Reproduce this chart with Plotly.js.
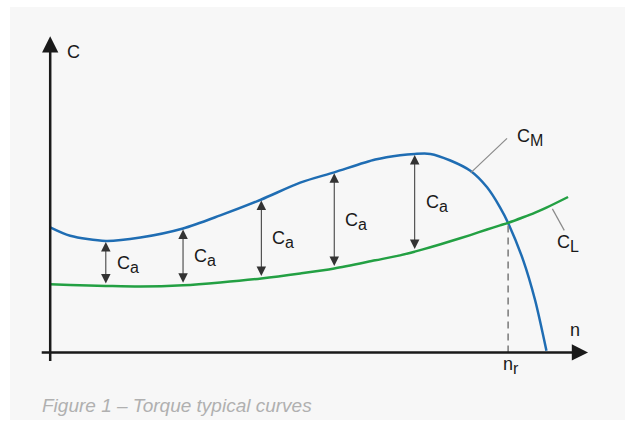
<!DOCTYPE html>
<html>
<head>
<meta charset="utf-8">
<script src="https://cdn.plot.ly/plotly-3.0.1.min.js"></script>
<style>
  html, body { margin: 0; padding: 0; background: #ffffff; }
  #panel { position: absolute; left: 10px; top: 7px; width: 615px; height: 413px; background: #f7f7f7; }
  #chart { position: absolute; left: 0; top: 0; width: 625px; height: 424px; }
</style>
</head>
<body>
<div id="panel"></div>
<div id="chart"></div>
<script>
// Speed n (arbitrary units, 0-100)
const speed        = [0, 3.7, 10.3, 16.7, 24.6, 31.5, 39.1, 46.3, 52.6, 60.2, 64.8, 67.5, 70.4, 74.1, 77.8, 80.9, 83.3, 84.8, 87.6, 89.8, 91.9, 95.9];
// Motor torque C_M
const motorTorque  = [40.1, 37.4, 35.7, 36.8, 39.7, 43.9, 49.0, 54.4, 57.7, 61.8, 63.2, 63.6, 63.6, 61.5, 58.2, 52.9, 46.5, 41.5, 29.5, 16.7, 0.5, null];
// Load torque C_L
const loadTorque   = [21.8, 21.6, 21.3, 21.1, 21.5, 22.4, 23.7, 25.3, 26.9, 29.5, 31.1, 32.3, 33.7, 35.6, 37.6, 39.4, 40.7, 41.5, 43.3, 44.8, 46.4, 49.8];
// Points where the accelerating torque C_a is shown
const caIndex      = [2, 4, 6, 8, 11];
// Rated speed n_r (intersection of C_M and C_L)
const ratedIndex   = 17;
// Leader lines for curve labels
const cmLeaderX = [77.9, 84.6], cmLeaderY = [57.6, 68.6];
const clLeaderX = [93.0, 95.2], clLeaderY = [46.0, 39.1];
// Axis extents
const xAxisX = [-1.85, 99.6], yAxisY = [-3.2, 101.3];

const nr = speed[ratedIndex];
const nrTorque = motorTorque[ratedIndex];

const labelFont = {family: 'Liberation Sans, Arial, sans-serif', size: 18, color: '#1a1a1a'};
function sub(main, s) {
  return main + '<sub><span style="font-size:16px">' + s + '</span></sub>';
}

const traces = [
  {x: speed, y: motorTorque, mode: 'lines', line: {color: '#1f6db3', width: 2.5, shape: 'spline', smoothing: 0.8}, hoverinfo: 'skip', connectgaps: false},
  {x: speed, y: loadTorque, mode: 'lines', line: {color: '#23a043', width: 2.5, shape: 'spline', smoothing: 0.8}, hoverinfo: 'skip'},
  {x: [nr, nr], y: [0, nrTorque], mode: 'lines', line: {color: '#808080', width: 1.6, dash: '7px,5px'}, hoverinfo: 'skip'},
  {x: cmLeaderX, y: cmLeaderY, mode: 'lines', line: {color: '#8a8a8a', width: 1.2}, hoverinfo: 'skip'},
  {x: clLeaderX, y: clLeaderY, mode: 'lines', line: {color: '#8a8a8a', width: 1.2}, hoverinfo: 'skip'}
];

const annotations = [];
// Axes with arrows
annotations.push({x: xAxisX[1], y: 0, ax: xAxisX[0], ay: 0, xref: 'x', yref: 'y', axref: 'x', ayref: 'y',
  text: '', showarrow: true, arrowhead: 2, arrowsize: 1.3, arrowwidth: 2.5, arrowcolor: '#1a1a1a'});
annotations.push({x: 0, y: yAxisY[1], ax: 0, ay: yAxisY[0], xref: 'x', yref: 'y', axref: 'x', ayref: 'y',
  text: '', showarrow: true, arrowhead: 2, arrowsize: 1.3, arrowwidth: 2.5, arrowcolor: '#1a1a1a'});
// Axis labels
annotations.push({x: 4.3, y: 96.2, xref: 'x', yref: 'y', text: 'C', showarrow: false, font: labelFont});
annotations.push({x: 97.2, y: 7.1, xref: 'x', yref: 'y', text: 'n', showarrow: false, font: labelFont});
annotations.push({x: nr, y: 0, xref: 'x', yref: 'y', text: sub('n', 'r'), showarrow: false, font: labelFont,
  yanchor: 'top', yshift: 0, xshift: 3});
// Curve labels
annotations.push({x: 88.9, y: 69.0, xref: 'x', yref: 'y', text: sub('C', 'M'), showarrow: false, font: labelFont});
annotations.push({x: 95.9, y: 34.8, xref: 'x', yref: 'y', text: sub('C', 'L'), showarrow: false, font: labelFont});
// Accelerating torque arrows and labels
caIndex.forEach(function (i) {
  annotations.push({x: speed[i], y: motorTorque[i], ax: speed[i], ay: loadTorque[i],
    xref: 'x', yref: 'y', axref: 'x', ayref: 'y', text: '', showarrow: true,
    arrowhead: 2, arrowside: 'end+start', arrowsize: 1.9, arrowwidth: 1, arrowcolor: '#333333',
    standoff: 1, startstandoff: 1});
  annotations.push({x: speed[i], y: (motorTorque[i] + loadTorque[i]) / 2, xref: 'x', yref: 'y',
    text: sub('C', 'a'), showarrow: false, xanchor: 'left', xshift: 9, yshift: -1, font: labelFont});
});
// Caption
annotations.push({x: 0.0109, y: -0.111, xref: 'paper', yref: 'paper', xanchor: 'left', yanchor: 'middle',
  text: '<i>Figure 1 – Torque typical curves</i>', showarrow: false,
  font: {family: 'Liberation Sans, Arial, sans-serif', size: 19, color: '#b0b0b0'}});

const layout = {
  width: 625, height: 424,
  margin: {l: 33.8, r: 24.2, t: 30.64, b: 56.4, pad: 0},
  paper_bgcolor: 'rgba(0,0,0,0)', plot_bgcolor: 'rgba(0,0,0,0)',
  showlegend: false,
  xaxis: {range: [-3, 102], showgrid: false, zeroline: false, showline: false, showticklabels: false, ticks: '', fixedrange: true},
  yaxis: {range: [-5, 103], showgrid: false, zeroline: false, showline: false, showticklabels: false, ticks: '', fixedrange: true},
  annotations: annotations
};

Plotly.newPlot('chart', traces, layout, {displayModeBar: false, staticPlot: true});
</script>
</body>
</html>
